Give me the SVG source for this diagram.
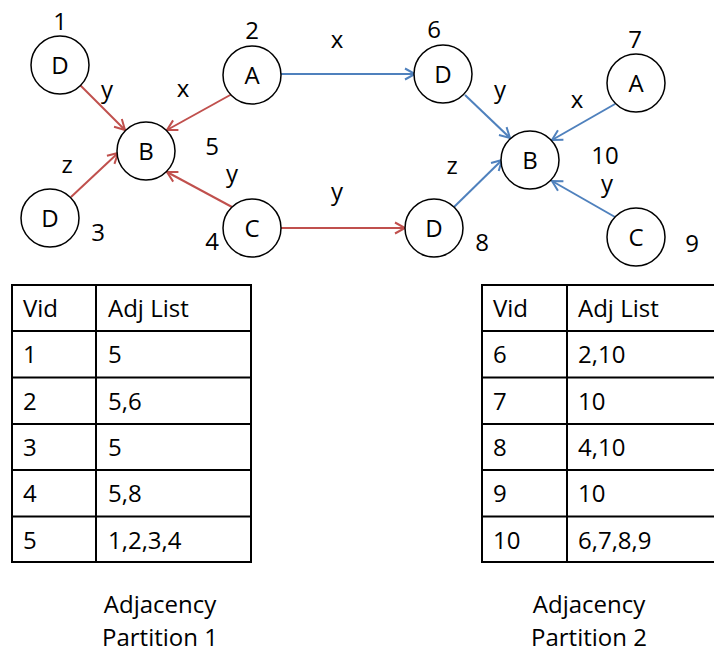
<svg xmlns="http://www.w3.org/2000/svg" width="714" height="654" viewBox="0 0 714 654">
<style>
text{font-family:"Open Sans","Liberation Sans",sans-serif;font-size:24px;fill:#000}
.c{text-anchor:middle}
circle{fill:#fff;stroke:#000;stroke-width:1.5}
.r{stroke:#c0504d;stroke-width:2;fill:none}
.b{stroke:#4f81bd;stroke-width:2;fill:none}
.t{fill:none;stroke:#000;stroke-width:2}
</style>
<defs>
<marker id="ar" markerUnits="userSpaceOnUse" markerWidth="14" markerHeight="14" refX="11" refY="6" orient="auto" viewBox="0 0 14 12">
<path d="M1,0.5 L11,6 L1,11.5" fill="none" stroke="#c0504d" stroke-width="2"/>
</marker>
<marker id="ab" markerUnits="userSpaceOnUse" markerWidth="14" markerHeight="14" refX="11" refY="6" orient="auto" viewBox="0 0 14 12">
<path d="M1,0.5 L11,6 L1,11.5" fill="none" stroke="#4f81bd" stroke-width="2"/>
</marker>
</defs>
<g id="connectors">
<line class="r" x1="80" y1="85" x2="125" y2="130" marker-end="url(#ar)"/>
<line class="r" x1="232" y1="94" x2="167" y2="130" marker-end="url(#ar)"/>
<line class="r" x1="71" y1="197" x2="118" y2="153" marker-end="url(#ar)"/>
<line class="r" x1="232" y1="207" x2="167" y2="172" marker-end="url(#ar)"/>
<line class="b" x1="281" y1="74" x2="415" y2="74" marker-end="url(#ab)"/>
<line class="r" x1="281" y1="228" x2="405" y2="228" marker-end="url(#ar)"/>
<line class="b" x1="465" y1="95" x2="510" y2="138" marker-end="url(#ab)"/>
<line class="b" x1="615" y1="104" x2="552" y2="140" marker-end="url(#ab)"/>
<line class="b" x1="454" y1="207" x2="502" y2="160" marker-end="url(#ab)"/>
<line class="b" x1="615" y1="217" x2="552" y2="181" marker-end="url(#ab)"/>
<text class="c" x="107" y="98">y</text>
<text class="c" x="183" y="97">x</text>
<text class="c" x="67" y="173">z</text>
<text class="c" x="232" y="182">y</text>
<text class="c" x="337" y="48">x</text>
<text class="c" x="337" y="200">y</text>
<text class="c" x="500" y="98">y</text>
<text class="c" x="577" y="108">x</text>
<text class="c" x="452" y="174">z</text>
<text class="c" x="607" y="192">y</text>
</g>
<g id="n1"><circle cx="60" cy="65" r="29"/><text class="c" x="60" y="74">D</text><text class="c" x="60" y="30">1</text></g>
<g id="n2"><circle cx="252" cy="75" r="29"/><text class="c" x="252" y="84">A</text><text class="c" x="252" y="39">2</text></g>
<g id="n3"><circle cx="50" cy="218" r="29"/><text class="c" x="50" y="227">D</text><text class="c" x="98" y="241">3</text></g>
<g id="n4"><circle cx="252" cy="228" r="29"/><text class="c" x="252" y="237">C</text><text class="c" x="212" y="250">4</text></g>
<g id="n5"><circle cx="146" cy="151" r="29"/><text class="c" x="146" y="160">B</text><text class="c" x="212" y="155">5</text></g>
<g id="n6"><circle cx="443" cy="74" r="29"/><text class="c" x="443" y="83">D</text><text class="c" x="434" y="38">6</text></g>
<g id="n7"><circle cx="636" cy="83" r="29"/><text class="c" x="636" y="92">A</text><text class="c" x="635" y="48">7</text></g>
<g id="n8"><circle cx="434" cy="228" r="29"/><text class="c" x="434" y="237">D</text><text class="c" x="482" y="251">8</text></g>
<g id="n9"><circle cx="636" cy="237" r="29"/><text class="c" x="636" y="246">C</text><text class="c" x="692" y="252">9</text></g>
<g id="n10"><circle cx="530" cy="160" r="29"/><text class="c" x="530" y="169">B</text><text class="c" x="605" y="164">10</text></g>
<g id="table1">
<rect class="t" x="12" y="285" width="239" height="277"/>
<line class="t" x1="96" y1="285" x2="96" y2="562"/>
<line class="t" x1="12" y1="331" x2="251" y2="331"/>
<line class="t" x1="12" y1="377.5" x2="251" y2="377.5"/>
<line class="t" x1="12" y1="424" x2="251" y2="424"/>
<line class="t" x1="12" y1="470" x2="251" y2="470"/>
<line class="t" x1="12" y1="516.5" x2="251" y2="516.5"/>
<text x="23" y="317">Vid</text><text x="108" y="317">Adj List</text>
<text x="23" y="363">1</text><text x="108" y="363">5</text>
<text x="23" y="410">2</text><text x="108" y="410">5,6</text>
<text x="23" y="456">3</text><text x="108" y="456">5</text>
<text x="23" y="502">4</text><text x="108" y="502">5,8</text>
<text x="23" y="549">5</text><text x="108" y="549">1,2,3,4</text>
</g>
<g id="table2">
<rect class="t" x="482" y="285" width="240" height="277"/>
<line class="t" x1="567" y1="285" x2="567" y2="562"/>
<line class="t" x1="482" y1="331" x2="714" y2="331"/>
<line class="t" x1="482" y1="377.5" x2="714" y2="377.5"/>
<line class="t" x1="482" y1="424" x2="714" y2="424"/>
<line class="t" x1="482" y1="470" x2="714" y2="470"/>
<line class="t" x1="482" y1="516.5" x2="714" y2="516.5"/>
<text x="493" y="317">Vid</text><text x="578" y="317">Adj List</text>
<text x="493" y="363">6</text><text x="578" y="363">2,10</text>
<text x="493" y="410">7</text><text x="578" y="410">10</text>
<text x="493" y="456">8</text><text x="578" y="456">4,10</text>
<text x="493" y="502">9</text><text x="578" y="502">10</text>
<text x="493" y="549">10</text><text x="578" y="549">6,7,8,9</text>
</g>
<g id="caption1"><text class="c" x="160" y="613">Adjacency</text><text class="c" x="160" y="646">Partition 1</text></g>
<g id="caption2"><text class="c" x="589" y="613">Adjacency</text><text class="c" x="589" y="646">Partition 2</text></g>
</svg>
